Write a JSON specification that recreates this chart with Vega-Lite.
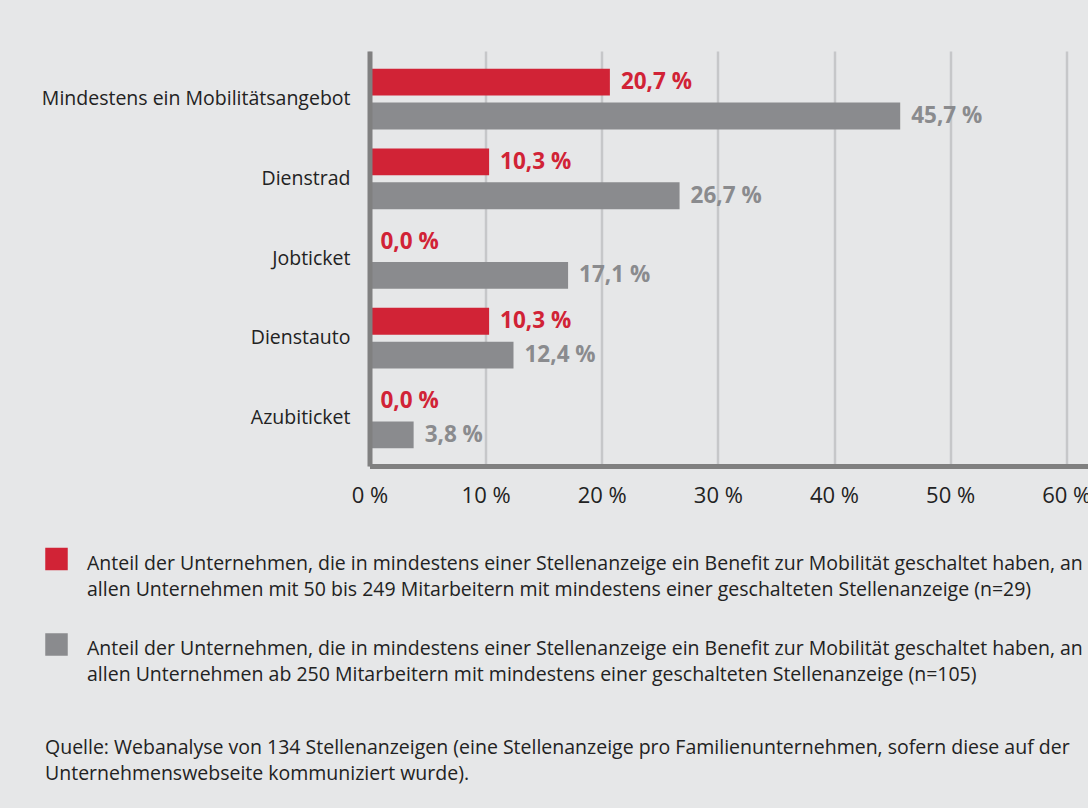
{
  "$schema": "https://vega.github.io/schema/vega-lite/v6.json",
  "autosize": "none",
  "width": 720,
  "height": 415,
  "padding": {"left": 369.5, "top": 51, "right": 0, "bottom": 342},
  "background": "#e6e7e8",
  "config": {"view": {"stroke": null}, "font": "Open Sans", "style": {"guide-label": {"lineHeight": 26}}},
  "data": {"values": [
    {"cat": "Mindestens ein Mobilitätsangebot", "group": "KMU", "value": 20.7},
    {"cat": "Mindestens ein Mobilitätsangebot", "group": "GU", "value": 45.7},
    {"cat": "Dienstrad", "group": "KMU", "value": 10.3},
    {"cat": "Dienstrad", "group": "GU", "value": 26.7},
    {"cat": "Jobticket", "group": "KMU", "value": 0.0},
    {"cat": "Jobticket", "group": "GU", "value": 17.1},
    {"cat": "Dienstauto", "group": "KMU", "value": 10.3},
    {"cat": "Dienstauto", "group": "GU", "value": 12.4},
    {"cat": "Azubiticket", "group": "KMU", "value": 0.0},
    {"cat": "Azubiticket", "group": "GU", "value": 3.8}
  ]},
  "title": {
    "text": ["Quelle: Webanalyse von 134 Stellenanzeigen (eine Stellenanzeige pro Familienunternehmen, sofern diese auf der", "Unternehmenswebseite kommuniziert wurde)."],
    "orient": "bottom",
    "anchor": "start",
    "frame": "group",
    "dx": -324.5,
    "offset": 54,
    "fontSize": 19.5,
    "fontWeight": "normal",
    "color": "#222222",
    "lineHeight": 26,
    "font": "Open Sans"
  },
  "encoding": {
    "y": {
      "field": "cat", "type": "nominal",
      "sort": ["Mindestens ein Mobilitätsangebot", "Dienstrad", "Jobticket", "Dienstauto", "Azubiticket"],
      "scale": {"paddingInner": 0.238, "paddingOuter": 0.2225},
      "axis": {"title": null, "ticks": false, "labelPadding": 19.5, "labelFontSize": 19.5, "labelColor": "#222222", "labelLimit": 500, "domainColor": "#808080", "domainWidth": 5, "zindex": 1}
    },
    "yOffset": {
      "field": "group", "type": "nominal", "sort": ["KMU", "GU"],
      "scale": {"paddingInner": 0.208, "paddingOuter": 0}
    },
    "x": {
      "field": "value", "type": "quantitative",
      "scale": {"domain": [0, 62], "nice": false},
      "axis": {"title": null, "values": [0, 10, 20, 30, 40, 50, 60], "labelExpr": "datum.value + ' %'", "ticks": false, "labelPadding": 19.5, "labelFontSize": 22, "labelColor": "#222222", "domainColor": "#808080", "domainWidth": 5, "grid": true, "gridColor": "#c6c7c9", "gridWidth": 2.5, "labelFlush": false}
    },
    "color": {
      "field": "group", "type": "nominal",
      "scale": {"domain": ["KMU", "GU"], "range": ["#d12336", "#8a8b8e"]}
    }
  },
  "layer": [
    {
      "mark": {"type": "bar"},
      "encoding": {
        "color": {
          "field": "group", "type": "nominal",
          "scale": {"domain": ["KMU", "GU"], "range": ["#d12336", "#8a8b8e"]},
          "legend": {
            "orient": "none", "legendX": -324.5, "legendY": 492, "direction": "vertical", "title": null,
            "symbolType": "M-1,-0.6H1V1.4H-1Z", "symbolSize": 506, "symbolStrokeWidth": 0, "symbolOpacity": 1,
            "labelFontSize": 19.5, "labelColor": "#222222", "labelBaseline": "top",
            "labelOffset": 19, "labelLimit": 3000, "rowPadding": 29.5, "padding": 0,
            "labelExpr": "datum.label == 'KMU' ? ['Anteil der Unternehmen, die in mindestens einer Stellenanzeige ein Benefit zur Mobilität geschaltet haben, an', 'allen Unternehmen mit 50 bis 249 Mitarbeitern mit mindestens einer geschalteten Stellenanzeige (n=29)'] : ['Anteil der Unternehmen, die in mindestens einer Stellenanzeige ein Benefit zur Mobilität geschaltet haben, an', 'allen Unternehmen ab 250 Mitarbeitern mit mindestens einer geschalteten Stellenanzeige (n=105)']"
          }
        }
      }
    },
    {
      "transform": [{"calculate": "replace(format(datum.value, '.1f'), '.', ',') + ' %'", "as": "label"}],
      "mark": {"type": "text", "align": "left", "baseline": "middle", "dx": 11, "fontSize": 22.5, "fontWeight": "bold"},
      "encoding": {
        "text": {"field": "label"}
      }
    }
  ]
}
